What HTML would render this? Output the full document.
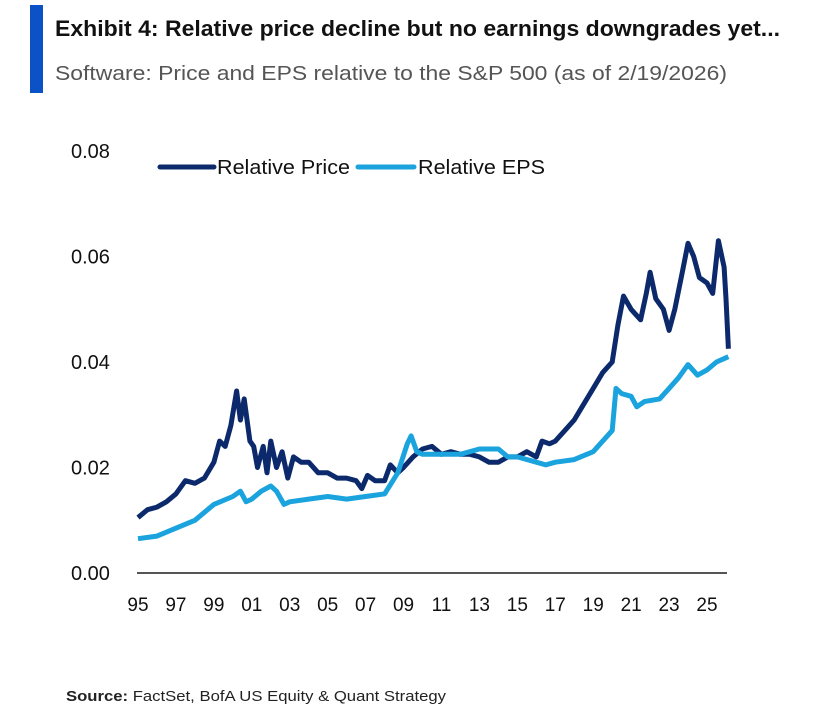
<!DOCTYPE html>
<html><head><meta charset="utf-8"><style>
html,body{margin:0;padding:0;background:#fff;}
svg{display:block;font-family:"Liberation Sans",Arial,sans-serif;}
</style></head><body>
<svg id="chart" width="823" height="715" viewBox="0 0 823 715">
<rect x="30" y="5" width="13" height="88" fill="#0a52c5"/>
<text x="55" y="36" font-size="22" font-weight="bold" fill="#111" textLength="725" lengthAdjust="spacingAndGlyphs">Exhibit 4: Relative price decline but no earnings downgrades yet...</text>
<text x="55" y="80" font-size="20" fill="#555" textLength="672" lengthAdjust="spacingAndGlyphs">Software: Price and EPS relative to the S&amp;P 500 (as of 2/19/2026)</text>
<g id="yaxis"></g>
<g id="xaxis"></g>
<line x1="137" y1="573" x2="727" y2="573" stroke="#555" stroke-width="2"/>
<g id="series"></g>
<g>
<g>
<line x1="160" y1="167" x2="214" y2="167" stroke="#0c2a6b" stroke-width="5" stroke-linecap="round"/>
<text x="217" y="174" font-size="20" fill="#111" textLength="133" lengthAdjust="spacingAndGlyphs">Relative Price</text></g>
<g>
<line x1="358" y1="167" x2="414" y2="167" stroke="#1ba3de" stroke-width="5" stroke-linecap="round"/>
<text x="418" y="174" font-size="20" fill="#111" textLength="127" lengthAdjust="spacingAndGlyphs">Relative EPS</text></g>
</g>
<text x="66" y="701" font-size="15" fill="#222" textLength="380" lengthAdjust="spacingAndGlyphs"><tspan font-weight="bold">Source:</tspan> FactSet, BofA US Equity &amp; Quant Strategy</text>
</svg>
<script>
const yTicks = [0, 0.02, 0.04, 0.06, 0.08];
const yTickLabels = ["0.00","0.02","0.04","0.06","0.08"];
const xTicks = [1995,1997,1999,2001,2003,2005,2007,2009,2011,2013,2015,2017,2019,2021,2023,2025];
const xTickLabels = ["95","97","99","01","03","05","07","09","11","13","15","17","19","21","23","25"];
const priceDates = [1995.0,1995.5,1996,1996.5,1997,1997.5,1998,1998.5,1999,1999.3,1999.6,1999.9,2000.2,2000.4,2000.6,2000.9,2001.1,2001.3,2001.6,2001.8,2002,2002.3,2002.6,2002.9,2003.2,2003.6,2004,2004.5,2005,2005.5,2006,2006.5,2006.8,2007.1,2007.5,2008,2008.3,2008.7,2009,2009.5,2010,2010.5,2011,2011.5,2012,2012.5,2013,2013.5,2014,2014.5,2015,2015.5,2016,2016.3,2016.7,2017,2017.5,2018,2018.5,2019,2019.5,2020,2020.3,2020.6,2021,2021.5,2021.8,2022,2022.3,2022.7,2023,2023.3,2023.7,2024,2024.3,2024.6,2025,2025.3,2025.6,2025.9,2026.0,2026.13];
const priceValues = [0.0105,0.012,0.0125,0.0135,0.015,0.0175,0.017,0.018,0.021,0.025,0.024,0.028,0.0345,0.029,0.033,0.025,0.024,0.020,0.024,0.019,0.025,0.020,0.023,0.018,0.022,0.021,0.021,0.019,0.019,0.018,0.018,0.0175,0.016,0.0185,0.0175,0.0175,0.0205,0.019,0.020,0.022,0.0235,0.024,0.0225,0.023,0.0225,0.0225,0.022,0.021,0.021,0.022,0.022,0.023,0.022,0.025,0.0245,0.025,0.027,0.029,0.032,0.035,0.038,0.040,0.047,0.0525,0.050,0.048,0.053,0.057,0.052,0.050,0.046,0.050,0.057,0.0625,0.060,0.056,0.055,0.053,0.063,0.058,0.052,0.0425];
const epsDates = [1995,1996,1997,1998,1999,2000,2000.4,2000.7,2001,2001.5,2002,2002.3,2002.7,2003,2004,2005,2006,2007,2008,2008.7,2009.2,2009.4,2009.7,2010,2011,2012,2013,2014,2014.5,2015,2016,2016.5,2017,2018,2019,2019.5,2020,2020.2,2020.5,2021,2021.3,2021.7,2022.5,2023,2023.5,2024,2024.5,2025,2025.5,2026.13];
const epsValues = [0.0065,0.007,0.0085,0.010,0.013,0.0145,0.0155,0.0135,0.014,0.0155,0.0165,0.0155,0.013,0.0135,0.014,0.0145,0.014,0.0145,0.015,0.019,0.0245,0.026,0.023,0.0225,0.0225,0.0225,0.0235,0.0235,0.022,0.022,0.021,0.0205,0.021,0.0215,0.023,0.025,0.027,0.035,0.034,0.0335,0.0315,0.0325,0.033,0.035,0.037,0.0395,0.0375,0.0385,0.040,0.041];

const NS = "http://www.w3.org/2000/svg";
function xScale(t){ return 138 + (t - 1995) * (707 - 138) / 30; }
function yScale(v){ return 573 - v * 5275; }

const yAxis = document.getElementById('yaxis');
yTicks.forEach((v,i)=>{
  const t = document.createElementNS(NS,'text');
  t.setAttribute('x', 71); t.setAttribute('y', yScale(v) + 7);
  t.setAttribute('font-size', 20); t.setAttribute('fill', '#111');
  t.textContent = yTickLabels[i];
  
  
  yAxis.appendChild(t);
});
const xAxis = document.getElementById('xaxis');
xTicks.forEach((v,i)=>{
  const t = document.createElementNS(NS,'text');
  t.setAttribute('x', xScale(v)); t.setAttribute('y', 611);
  t.setAttribute('font-size', 19); t.setAttribute('fill', '#111');
  t.setAttribute('text-anchor', 'middle');
  t.textContent = xTickLabels[i];
  
  
  xAxis.appendChild(t);
});
function drawLine(dates, vals, color){
  const p = document.createElementNS(NS,'path');
  p.setAttribute('d', dates.map((d,i)=>(i?'L':'M')+xScale(d).toFixed(1)+' '+yScale(vals[i]).toFixed(1)).join(' '));
  p.setAttribute('fill','none'); p.setAttribute('stroke',color);
  p.setAttribute('stroke-width',5); p.setAttribute('stroke-linejoin','round');
  document.getElementById('series').appendChild(p);
  return p;
}
const priceLine = drawLine(priceDates, priceValues, '#0c2a6b');


const epsLine = drawLine(epsDates, epsValues, '#1ba3de');


</script>
</body></html>
